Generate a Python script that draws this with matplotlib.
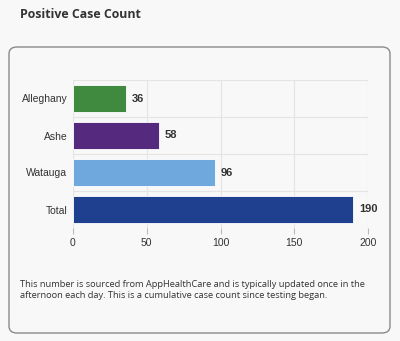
import matplotlib.pyplot as plt
from matplotlib.patches import FancyBboxPatch

counties = ['Alleghany', 'Ashe', 'Watauga', 'Total']
cases = [36, 58, 96, 190]
colors = ['#3f8a3f', '#552a7e', '#6fa8dc', '#1f3f8f']
xticks = [0, 50, 100, 150, 200]

bg = '#f8f8f8'
fig = plt.figure(figsize=(4, 3.41), dpi=100, facecolor=bg)

# card outline
card = FancyBboxPatch((9 / 400, 1 - 333 / 341), 381 / 400, 286 / 341,
                      boxstyle='round,pad=0,rounding_size=0.02',
                      transform=fig.transFigure, facecolor=bg,
                      edgecolor='#8a8a8a', linewidth=1.0, zorder=-1)
fig.patches.append(card)

fig.text(20 / 400, 1 - 15 / 341, 'Positive Case Count', family='Open Sans',
         fontweight='bold', fontsize=8.9, color='#333333', va='center')

ax = fig.add_axes([73 / 400, 1 - 228 / 341, 295 / 400, 148 / 341])
ax.set_zorder(2)
ax.set_facecolor(bg)
y = list(range(len(counties)))
ax.barh(y, cases, height=0.73, color=colors, edgecolor='white', linewidth=0.6, zorder=3)
for yi, v in zip(y, cases):
    ax.text(v + 4, yi, str(v), va='center', ha='left', fontsize=8,
            fontweight='bold', family='Liberation Sans', color='#333333')

ax.set_xlim(0, 200)
ax.set_ylim(len(counties) - 0.5, -0.5)
ax.set_xticks(xticks)
ax.set_yticks(y)
ax.set_yticklabels(counties, family='Liberation Sans', fontsize=7.5, color='#333333')
ax.set_xticklabels([str(t) for t in xticks], family='Liberation Sans', fontsize=7.5, color='#333333')
ax.set_yticks([i + 0.5 for i in range(-1, len(counties))], minor=True)
ax.grid(True, axis='x', color='#e4e4e4', linewidth=0.8, zorder=0)
ax.grid(True, axis='y', which='minor', color='#e4e4e4', linewidth=0.8, zorder=0)
ax.tick_params(axis='y', which='both', length=0, pad=4)
ax.tick_params(axis='x', length=4, color='#bbbbbb', pad=3)
for s in ax.spines.values():
    s.set_visible(False)

fig.text(20 / 400, 1 - 290 / 341,
         'This number is sourced from AppHealthCare and is typically updated once in the\n'
         'afternoon each day. This is a cumulative case count since testing began.',
         family='Open Sans', fontsize=6.7, color='#333333', va='center', linespacing=1.2)

fig.savefig('out.png', dpi=100, facecolor=bg)
